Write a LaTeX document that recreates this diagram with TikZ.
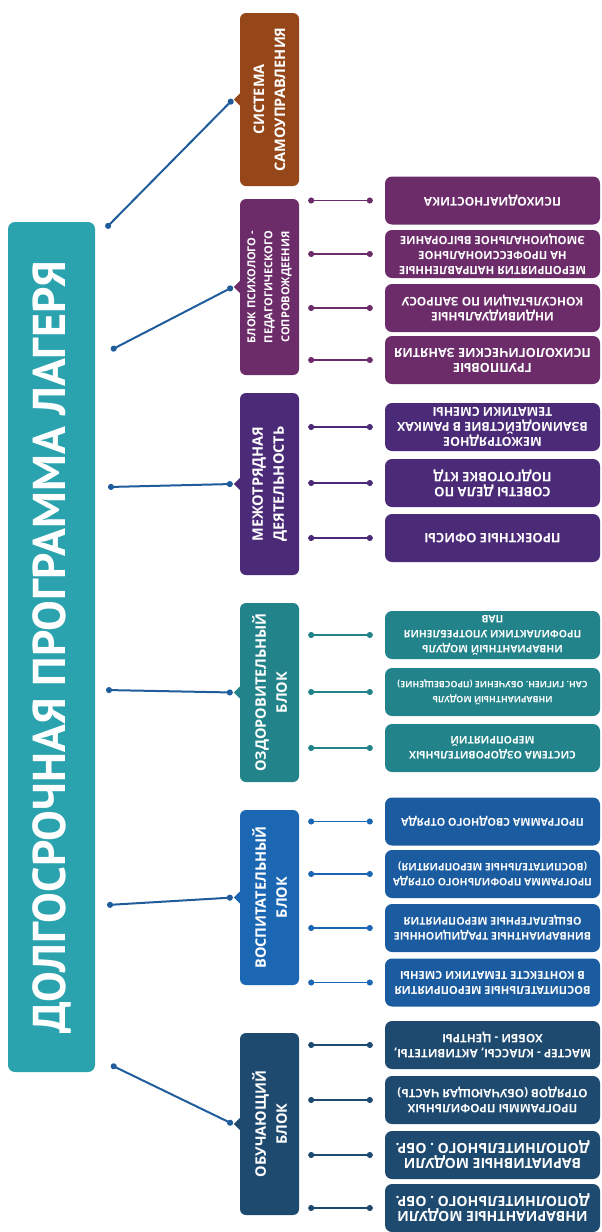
\documentclass[tikz,border=0pt]{standalone}
\usepackage{fontspec}
\setmainfont{Open Sans}
\newfontfamily\titlefont{PT Sans}
\usetikzlibrary{arrows.meta}
\definecolor{mainteal}{RGB}{43,163,174}
\definecolor{sysbrown}{RGB}{150,71,26}
\definecolor{psypurple}{RGB}{108,44,106}
\definecolor{mezhviolet}{RGB}{75,42,120}
\definecolor{ozdteal}{RGB}{34,131,138}
\definecolor{vosblue}{RGB}{28,103,179}
\definecolor{vosleaf}{RGB}{27,92,160}
\definecolor{obunavy}{RGB}{30,74,112}
\definecolor{linkblue}{RGB}{31,92,156}

\newcommand\leaffont[1]{\bfseries\fontsize{#1}{15}\selectfont}

\tikzset{
  mainbox/.style={rounded corners=7pt, fill=mainteal, text=white, rotate=90,
    minimum width=850pt, minimum height=87pt, inner sep=0pt,
    font=\titlefont\bfseries\fontsize{46}{50}\selectfont},
  blockbox/.style={rounded corners=6pt, rotate=90, text=white, align=center,
    minimum height=59pt, inner sep=2pt,
    font=\bfseries\fontsize{14.5}{21}\selectfont},
  leafbox/.style={rounded corners=7pt, rotate=180, text=white, align=center,
    minimum width=215pt, minimum height=48pt, inner sep=2pt,
    font=\leaffont{#1}},
  leafbox/.default=11,
  mainlink/.style={draw=linkblue, line width=2pt, {Circle[length=6pt]}-{Circle[length=6pt]}},
  leaflink/.style={line width=1.5pt, {Circle[length=6pt]}-{Circle[length=6pt]},
    shorten <=9pt, shorten >=12pt},
}

\begin{document}
\begin{tikzpicture}[x=1pt,y=-1pt]
\useasboundingbox (0,0) rectangle (602,1232);
% main title
\node[mainbox] (main) at (51.5,647) {ДОЛГОСРОЧНАЯ ПРОГРАММА ЛАГЕРЯ};

% blocks
\node[blockbox, fill=sysbrown, minimum width=173pt] (sys) at (269.5,99.5) {СИСТЕМА\\САМОУПРАВЛЕНИЯ};
\node[blockbox, fill=psypurple, minimum width=176pt, font=\bfseries\fontsize{11}{17}\selectfont] (psy) at (269.5,287) {БЛОК ПСИХОЛОГО -\\ПЕДАГОГИЧЕСКОГО\\СОПРОВОЖДЕЕНИЯ};
\node[blockbox, fill=mezhviolet, minimum width=182pt] (mezh) at (269.5,484) {МЕЖОТРЯДНАЯ\\ДЕЯТЕЛЬНОСТЬ};
\node[blockbox, fill=ozdteal, minimum width=179pt] (ozd) at (269.5,692.5) {ОЗДОРОВИТЕЛЬНЫЙ\\БЛОК};
\node[blockbox, fill=vosblue, minimum width=175pt] (vos) at (269.5,897.5) {ВОСПИТАТЕЛЬНЫЙ\\БЛОК};
\node[blockbox, fill=obunavy, minimum width=182pt] (obu) at (269.5,1124) {ОБУЧАЮЩИЙ\\БЛОК};

% pointers on the blocks
\foreach \b/\c in {sys/sysbrown, psy/psypurple, mezh/mezhviolet, ozd/ozdteal, vos/vosblue, obu/obunavy} {
  \fill[\c] ([yshift=-6pt]\b.north) -- ([xshift=-6pt]\b.north) -- ([yshift=6pt]\b.north) -- cycle;
  \coordinate (\b-tip) at ([xshift=-7pt]\b.north);
}

% main links
\coordinate (s-sys) at (106,228);
\coordinate (s-psy) at (111,350);
\coordinate (s-mezh) at (108,487);
\coordinate (s-ozd) at (106,690);
\coordinate (s-vos) at (107,905);
\coordinate (s-obu) at (111,1065);
\foreach \b in {sys, psy, mezh, ozd, vos, obu}
  \draw[mainlink] (s-\b) -- (\b-tip);

% psycho leaves
\node[leafbox=12, fill=psypurple] (psy1) at (492.5,200.5) {ПСИХОДИАГНОСТИКА};
\node[leafbox=11.3, fill=psypurple] (psy2) at (492.5,254) {МЕРОПРИЯТИЯ НАПРАВЛЕННЫЕ\\НА ПРОФЕССИОНАЛЬНОЕ\\ЭМОЦИОНАЛЬНОЕ ВЫГОРАНИЕ};
\node[leafbox=11.9, fill=psypurple] (psy3) at (492.5,308) {ИНДИВИДУАЛЬНЫЕ\\КОНСУЛЬТАЦИИ ПО ЗАПРОСУ};
\node[leafbox=12.6, fill=psypurple] (psy4) at (492.5,360) {ГРУППОВЫЕ\\ПСИХОЛОГИЧЕСКИЕ ЗАНЯТИЯ};

% mezh leaves
\node[leafbox=12.4, fill=mezhviolet] (mezh1) at (492.5,427) {МЕЖОТРЯДНОЕ\\ВЗАИМОДЕЙСТВИЕ В РАМКАХ\\ТЕМАТИКИ СМЕНЫ};
\node[leafbox=13, fill=mezhviolet] (mezh2) at (492.5,483) {СОВЕТЫ ДЕЛА ПО\\ПОДГОТОВКЕ КТД};
\node[leafbox=13, fill=mezhviolet] (mezh3) at (492.5,538) {ПРОЕКТНЫЕ ОФИСЫ};

% ozd leaves
\node[leafbox=10.3, fill=ozdteal] (ozd1) at (492.5,635) {ИНВАРИАНТНЫЙ МОДУЛЬ\\ПРОФИЛАКТИКИ УПОТРЕБЛЕНИЯ\\ПАВ};
\node[leafbox=8.8, fill=ozdteal] (ozd2) at (492.5,692) {ИНВАРИАНТНЫЙ МОДУЛЬ\\САН. ГИГИЕН. ОБУЧЕНИЕ (ПРОСВЕЩЕНИЕ)};
\node[leafbox=10.5, fill=ozdteal] (ozd3) at (492.5,748) {СИСТЕМА ОЗДОРОВИТЕЛЬНЫХ\\МЕРОПРИЯТИЙ};

% vos leaves
\node[leafbox=10.8, fill=vosleaf] (vos1) at (492.5,821.5) {ПРОГРАММА СВОДНОГО ОТРЯДА};
\node[leafbox=10.3, fill=vosleaf] (vos2) at (492.5,874) {ПРОГРАММА ПРОФИЛЬНОГО ОТРЯДА\\(ВОСПИТАТЕЛЬНЫЕ МЕРОПРИЯТИЯ)};
\node[leafbox=10.7, fill=vosleaf] (vos3) at (492.5,928) {ВИНВАРИАНТНЫЕ ТРАДИЦИОННЫЕ\\ОБЩЕЛАГЕРНЫЕ МЕРОПРИЯТИЯ};
\node[leafbox=11.1, fill=vosleaf] (vos4) at (492.5,982.5) {ВОСПИТАТЕЛЬНЫЕ МЕРОПРИЯТИЯ\\В КОНТЕКСТЕ ТЕМАТИКИ СМЕНЫ};

% obu leaves
\node[leafbox=11.7, fill=obunavy] (obu1) at (492.5,1045) {МАСТЕР - КЛАССЫ, АКТИВИТЕТЫ,\\ХОББИ - ЦЕНТРЫ};
\node[leafbox=11.6, fill=obunavy] (obu2) at (492.5,1100) {ПРОГРАММЫ ПРОФИЛЬНЫХ\\ОТРЯДОВ (ОБУЧАЮЩАЯ ЧАСТЬ)};
\node[leafbox=14, fill=obunavy] (obu3) at (492.5,1155) {ВАРИАТИВНЫЕ МОДУЛИ\\ДОПОЛНИТЕЛЬНОГО . ОБР.};
\node[leafbox=14, fill=obunavy] (obu4) at (492.5,1208) {ИНВАРИАНТНЫЕ МОДУЛИ\\ДОПОЛНИТЕЛЬНОГО . ОБР.};

% leaf links
\foreach \l in {1,...,4} \draw[leaflink, psypurple] (psy.south |- psy\l) -- (psy\l.east);
\foreach \l in {1,...,3} \draw[leaflink, mezhviolet] (mezh.south |- mezh\l) -- (mezh\l.east);
\foreach \l in {1,...,3} \draw[leaflink, ozdteal] (ozd.south |- ozd\l) -- (ozd\l.east);
\foreach \l in {1,...,4} \draw[leaflink, vosblue] (vos.south |- vos\l) -- (vos\l.east);
\foreach \l in {1,...,4} \draw[leaflink, obunavy] (obu.south |- obu\l) -- (obu\l.east);
\end{tikzpicture}
\end{document}
